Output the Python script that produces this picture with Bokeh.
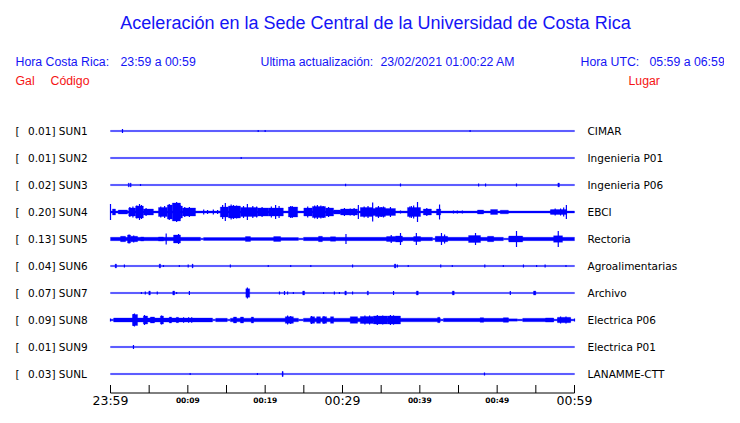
from bokeh.plotting import figure
from bokeh.models import Range1d
from bokeh.core.properties import value
from bokeh.embed import file_html
from bokeh.resources import INLINE

# ------------------------------------------------------------------ data
CODES = ["SUN1", "SUN2", "SUN3", "SUN4", "SUN5", "SUN6", "SUN7", "SUN8", "SUN9", "SUNL"]
GAL = [0.01, 0.01, 0.02, 0.20, 0.13, 0.04, 0.07, 0.09, 0.01, 0.03]
PLACES = ["CIMAR", "Ingenieria P01", "Ingenieria P06", "EBCI", "Rectoria",
          "Agroalimentarias", "Archivo", "Electrica P06", "Electrica P01", "LANAMME-CTT"]

TICK_MIN = [0, 5, 10, 15, 20, 25, 30, 35, 40, 45, 50, 55, 60]
BIG_TICK_MIN = [0, 30, 60]
BIG_TICK_LABELS = ["23:59", "00:29", "00:59"]
SMALL_TICK_MIN = [10, 20, 40, 50]
SMALL_TICK_LABELS = ["00:09", "00:19", "00:39", "00:49"]

TITLE = "Aceleración en la Sede Central de la Universidad de Costa Rica"

# waveform envelopes: minutes after 23:59, half-amplitude (display units)
# base band per station: (t0, t1, half-width)
SUN1_BASE = [(0, 60, 0.6)]
SUN2_BASE = [(0, 60, 0.6)]
SUN3_BASE = [(0, 60, 0.6)]
SUN4_BASE = [(0, 60, 1.0)]
SUN5_BASE = [(0, 11.64, 1.7), (11.64, 12.03, 0.8), (12.03, 24.3, 1.4), (24.3, 24.96, 0.8),
             (24.96, 41.64, 1.7), (41.64, 42.03, 0.8), (42.03, 50.8, 1.7), (50.8, 51.5, 0.8),
             (51.5, 60, 1.7)]
SUN6_BASE = [(0, 60, 0.6)]
SUN7_BASE = [(0, 60, 0.6)]
SUN8_BASE = [(0, 0.4, 0.8), (0.4, 13.2, 2.0), (13.2, 13.6, 0.8), (13.6, 15.1, 1.7), (15.1, 15.5, 0.8),
             (15.5, 24.3, 1.8), (24.3, 24.95, 0.8), (24.95, 42.65, 1.8), (42.65, 43.05, 0.8),
             (43.05, 51.45, 1.7), (51.45, 52.6, 1.2), (52.6, 53.3, 0.8), (53.3, 57.3, 1.7),
             (57.3, 57.8, 0.8), (57.8, 59.5, 1.7), (59.5, 60, 0.8)]
SUN9_BASE = [(0, 60, 0.6)]
SUNL_BASE = [(0, 60, 0.6)]

# bursts: (t0, t1, half-amplitude)
SUN1_BURSTS = []
SUN2_BURSTS = []
SUN3_BURSTS = [(2.3, 2.42, 2), (2.55, 2.67, 2), (57.85, 58.05, 2)]
SUN4_BURSTS = [(0.25, 0.65, 3), (1.0, 2.2, 2), (2.35, 3.25, 4), (3.25, 4.25, 6), (4.25, 5.55, 3),
               (6.2, 7.35, 4.5), (7.35, 8.0, 7), (8.0, 9.05, 9), (9.05, 9.3, 6), (9.3, 11.0, 4),
               (14.2, 15.25, 5), (15.25, 16.8, 6), (16.8, 19.0, 4.5), (19.0, 20.4, 4),
               (20.4, 22.35, 4), (23.0, 24.2, 5), (25.0, 26.1, 4), (26.1, 27.8, 5.5),
               (27.8, 28.85, 4), (28.85, 29.75, 2), (29.75, 31.95, 3), (32.3, 33.9, 4.5),
               (33.9, 36.85, 3.5), (34.25, 35.55, 4.5), (38.4, 40.1, 4.5), (40.45, 41.5, 3),
               (42.15, 42.7, 3), (47.45, 48.25, 2), (49.15, 50.05, 2.5), (50.4, 51.45, 1.8),
               (56.9, 59.0, 2.5)]
SUN5_BURSTS = [(1.3, 1.95, 2.7), (2.2, 2.6, 4), (2.6, 3.5, 2.7), (3.9, 4.3, 2), (6.2, 6.85, 2),
               (8.15, 9.05, 4), (17.45, 18.1, 2.5), (21.1, 22.0, 2.5), (26.9, 27.4, 2.7),
               (28.45, 29.1, 2.3), (35.7, 36.85, 2.5), (36.85, 37.75, 3), (39.2, 40.1, 2.5),
               (42.0, 43.6, 2.7), (46.3, 47.85, 3.5), (48.75, 49.55, 2.7), (51.5, 53.3, 3),
               (57.3, 58.45, 3.3)]
SUN6_BURSTS = [(0.6, 0.78, 2), (6.3, 6.48, 2), (10.55, 10.68, 2), (36.7, 36.9, 2)]
SUN7_BURSTS = [(4.95, 5.15, 2), (8.05, 8.3, 2), (17.5, 18.0, 4.3), (24.85, 25.1, 2),
               (30.3, 30.5, 2), (33.2, 33.35, 2), (39.55, 39.8, 2), (44.2, 44.45, 2),
               (54.7, 55.0, 2)]
SUN8_BURSTS = [(2.85, 3.5, 5.5), (4.25, 4.8, 4), (5.15, 5.7, 3), (6.45, 6.85, 4), (7.6, 7.9, 3),
               (8.5, 8.8, 2.7), (15.9, 16.3, 3), (16.8, 17.2, 3), (18.2, 18.5, 3),
               (22.6, 23.65, 3.3), (25.85, 26.4, 3.3), (26.65, 27.15, 3.3), (27.4, 27.95, 3.3),
               (28.45, 28.85, 3.3), (31.0, 31.95, 3.3), (32.3, 34.0, 3.5), (34.0, 35.8, 4),
               (35.8, 37.5, 4), (42.3, 42.6, 2.7), (47.8, 48.25, 2.3), (50.8, 51.45, 2.3),
               (56.25, 57.3, 2), (57.8, 59.5, 2.7)]
SUN9_BURSTS = []
SUNL_BURSTS = [(22.2, 22.32, 2.5)]

# spikes: (t, half-amplitude)
SUN1_SPIKES = [(1.55, 2), (19.1, 1), (20.0, 1), (46.5, 1)]
SUN2_SPIKES = [(16.9, 1)]
SUN3_SPIKES = [(3.88, 1), (30.4, 1.2), (37.5, 1.5), (47.6, 1.5), (48.5, 1.5), (52.5, 1.5)]
SUN4_SPIKES = [(0.0, 8), (2.5, 5), (2.9, 5.5), (3.4, 6.5), (3.75, 8), (4.0, 7), (4.6, 4),
               (6.5, 5.5), (7.0, 6), (7.6, 8), (8.2, 9), (8.55, 10), (9.0, 7), (9.6, 5),
               (10.2, 5), (12.05, 2.5), (12.55, 2), (13.3, 2.5), (13.85, 2), (14.5, 7),
               (14.85, 9), (15.6, 7.5), (15.9, 7), (16.0, 6), (16.3, 6.5), (17.2, 6),
               (17.7, 8), (18.4, 6), (18.9, 5.5), (19.6, 5), (20.8, 5.5), (21.35, 7),
               (21.8, 6), (23.3, 6), (23.5, 6), (25.5, 5.5), (26.4, 6.5), (26.75, 7),
               (27.2, 6.5), (27.5, 6), (28.2, 5), (30.25, 4), (31.0, 3.5), (31.5, 4),
               (32.05, 7), (32.8, 5.5), (33.3, 6), (33.9, 9.5), (34.65, 6), (35.0, 5),
               (35.3, 5.5), (36.2, 5), (37.5, 1.5), (38.7, 5.5), (38.9, 6), (39.2, 6.5),
               (39.7, 10), (40.9, 4), (42.55, 7.5), (44.35, 1.5), (44.85, 1.5), (45.5, 1.5),
               (56.9, 1.5), (57.5, 3.5), (58.2, 3.5), (58.6, 4.5), (58.95, 7)]
SUN5_SPIKES = [(2.4, 4.5), (3.0, 3.5), (7.2, 5.5), (8.8, 5), (30.45, 5), (36.3, 4), (37.5, 6),
               (39.55, 6), (42.8, 6), (43.2, 4.5), (47.2, 6), (52.5, 8), (57.9, 8)]
SUN6_SPIKES = [(1.8, 1.5), (6.85, 1), (8.9, 1), (10.05, 1.5), (15.5, 1.5), (20.4, 1),
               (23.3, 1), (25.9, 1), (31.3, 1.5), (37.1, 1.5), (38.5, 1), (42.7, 1.5),
               (44.2, 1), (48.4, 1.5), (50.8, 1), (53.4, 1.5), (55.1, 1), (56.2, 1.5),
               (58.9, 1)]
SUN7_SPIKES = [(4.0, 1), (4.5, 1.5), (6.05, 1.5), (8.55, 1), (10.2, 2), (17.7, 5.5),
               (21.85, 1.5), (22.5, 2), (22.9, 1.5), (23.65, 1), (27.55, 1), (28.95, 1.5),
               (29.6, 1), (31.3, 1.5), (36.6, 2), (51.7, 2)]
SUN8_SPIKES = [(0.0, 1.5), (2.95, 6), (3.1, 6.5), (3.3, 5), (4.4, 5), (6.6, 4.5),
               (9.45, 2.7), (10.1, 2.7), (10.5, 2.7), (22.9, 4.5), (23.3, 4), (26.0, 4),
               (27.6, 4), (32.9, 4.5), (33.5, 4.5), (34.5, 5), (35.2, 4.5), (36.2, 5),
               (36.6, 4.7), (58.2, 3.5), (58.9, 3.5), (60.0, 1.5)]
SUN9_SPIKES = [(2.97, 2)]
SUNL_SPIKES = [(10.3, 1), (19.0, 1), (22.25, 2.5), (48.36, 1.5)]

BASES = [SUN1_BASE, SUN2_BASE, SUN3_BASE, SUN4_BASE, SUN5_BASE,
         SUN6_BASE, SUN7_BASE, SUN8_BASE, SUN9_BASE, SUNL_BASE]
BURSTS = [SUN1_BURSTS, SUN2_BURSTS, SUN3_BURSTS, SUN4_BURSTS, SUN5_BURSTS,
          SUN6_BURSTS, SUN7_BURSTS, SUN8_BURSTS, SUN9_BURSTS, SUNL_BURSTS]
SPIKES = [SUN1_SPIKES, SUN2_SPIKES, SUN3_SPIKES, SUN4_SPIKES, SUN5_SPIKES,
          SUN6_SPIKES, SUN7_SPIKES, SUN8_SPIKES, SUN9_SPIKES, SUNL_SPIKES]

# ------------------------------------------------------------------ layout (canvas pixels)
W, H = 724, 407
X0_PX, PX_PER_MIN = 110.0, 464.0 / 60.0
ROW0_PY, ROW_DY = 130.5, 27.0
AMP = 1.0 / ROW_DY  # display units -> row units

def X(px):
    return (px - X0_PX) / PX_PER_MIN

def Y(py):
    return (py - ROW0_PY) / ROW_DY

BLUE = "#0000ff"
TXT_BLUE = "#1414f5"
RED = "#f51414"

p = figure(width=W, height=H, output_backend="svg", toolbar_location=None,
           x_axis_type=None, y_axis_type=None,
           x_range=Range1d(X(0), X(W)), y_range=Range1d(Y(H), Y(0)),
           min_border=0, outline_line_color=None)
p.background_fill_color = "white"
p.border_fill_color = "white"

# ---- waveforms
for i in range(len(CODES)):
    b = BASES[i]
    p.quad(left=[s[0] for s in b], right=[s[1] for s in b],
           bottom=[i - s[2] * AMP for s in b], top=[i + s[2] * AMP for s in b],
           fill_color=BLUE, line_color=BLUE, line_width=0.3)
    bu = BURSTS[i]
    if bu:
        p.quad(left=[s[0] for s in bu], right=[s[1] for s in bu],
               bottom=[i - s[2] * AMP for s in bu], top=[i + s[2] * AMP for s in bu],
               fill_color=BLUE, line_color=BLUE, line_width=0.3)
    sp = SPIKES[i]
    if sp:
        p.segment(x0=[s[0] for s in sp], x1=[s[0] for s in sp],
                  y0=[i - s[1] * AMP for s in sp], y1=[i + s[1] * AMP for s in sp],
                  line_color=BLUE, line_width=1.2)

rows = list(range(len(CODES)))
LBL_FONT = value("DejaVu Sans")
p.text(x=[X(15)] * len(rows), y=rows, text=["["] * len(rows), text_font=LBL_FONT,
       text_font_size="10.5px", text_baseline="middle", text_color="black")
p.text(x=[X(27.5)] * len(rows), y=rows, text=[f"{g:.2f}] {c}" for g, c in zip(GAL, CODES)],
       text_font=LBL_FONT, text_font_size="10.5px", text_baseline="middle", text_color="black")
p.text(x=[X(587)] * len(rows), y=rows, text=PLACES, text_font=LBL_FONT,
       text_font_size="10.5px", text_baseline="middle", text_color="black")

# ---- time axis
AXIS_PY = 392.5
p.segment(x0=[TICK_MIN[0]], x1=[TICK_MIN[-1]], y0=[Y(AXIS_PY)], y1=[Y(AXIS_PY)],
          line_color="black", line_width=1)
p.segment(x0=TICK_MIN, x1=TICK_MIN, y0=[Y(AXIS_PY)] * len(TICK_MIN),
          y1=[Y(AXIS_PY - 8)] * len(TICK_MIN), line_color="black", line_width=1)
p.text(x=BIG_TICK_MIN, y=[Y(399.5)] * 3, text=BIG_TICK_LABELS, text_font=LBL_FONT,
       text_font_size="12.5px", text_align="center", text_baseline="middle", text_color="black")
p.text(x=SMALL_TICK_MIN, y=[Y(399.5)] * 4, text=SMALL_TICK_LABELS, text_font=LBL_FONT,
       text_font_size="7.5px", text_font_style="bold", text_align="center",
       text_baseline="middle", text_color="black")

# ---- titles / headers
HFONT = value("Liberation Sans")
p.text(x=[X(375)], y=[Y(22)], text=[TITLE], text_font=HFONT, text_font_size="18px",
       text_align="center", text_baseline="middle", text_color=TXT_BLUE)
hdr = [(15, "Hora Costa Rica:"), (120, "23:59 a 00:59"), (260, "Ultima actualización:"),
       (380, "23/02/2021 01:00:22 AM"), (580, "Hora UTC:"), (649, "05:59 a 06:59")]
p.text(x=[X(h[0]) for h in hdr], y=[Y(61)] * len(hdr), text=[h[1] for h in hdr],
       text_font=HFONT, text_font_size="12.3px", text_baseline="middle", text_color=TXT_BLUE)
hdr2 = [(15, "Gal"), (50, "Código"), (628, "Lugar")]
p.text(x=[X(h[0]) for h in hdr2], y=[Y(80.5)] * len(hdr2), text=[h[1] for h in hdr2],
       text_font=HFONT, text_font_size="12.3px", text_baseline="middle", text_color=RED)

open("out.html", "w").write(file_html(p, INLINE))
